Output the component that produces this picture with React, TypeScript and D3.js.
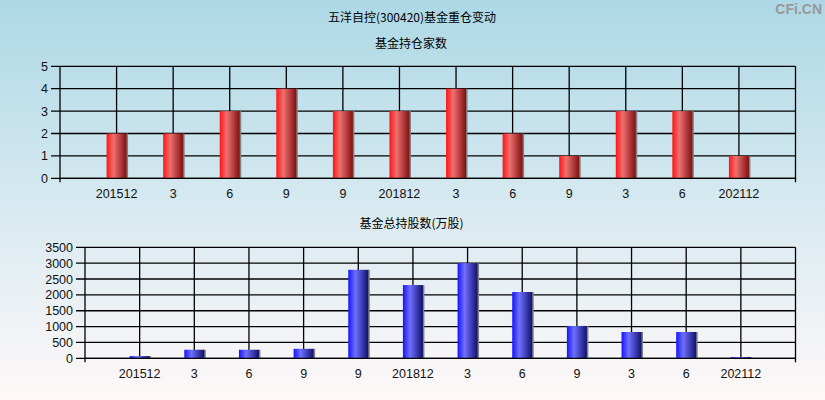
import React from 'react';
import * as d3 from 'd3';

const categories = ['201512', '3', '6', '9', '9', '201812', '3', '6', '9', '3', '6', '202112'];
const fundCounts = [2, 2, 3, 4, 3, 3, 4, 2, 1, 3, 3, 1];
const fundShares = [70, 270, 270, 300, 2790, 2310, 3000, 2090, 1020, 830, 830, 40];
const countTicks = [0, 1, 2, 3, 4, 5];
const shareTicks = [0, 500, 1000, 1500, 2000, 2500, 3000, 3500];

const W = 825;
const H = 400;
const FONT = '"Liberation Sans", Arial, sans-serif';
const CJK = '"Noto Sans CJK SC", sans-serif';

type PanelProps = {
  left: number;
  right: number;
  top: number;
  bottom: number;
  values: number[];
  ticks: number[];
  grad: string;
  labelY: number;
};

function Panel({ left, right, top, bottom, values, ticks, grad, labelY }: PanelProps) {
  const idx = categories.map((_, i) => String(i));
  const x = d3.scalePoint<string>().domain(idx).range([left, right]).padding(1);
  const y = d3.scaleLinear().domain([0, d3.max(ticks) as number]).range([bottom, top]);
  const bw = 20;
  return (
    <g>
      {ticks.map((t) => (
        <g key={'h' + t}>
          <line x1={left - 9} x2={right} y1={y(t)} y2={y(t)} stroke="#000" strokeWidth={1.3} />
          <text x={left - 12} y={y(t) + 4.5} textAnchor="end" fontFamily={FONT} fontSize={12.5} fill="#111">
            {t}
          </text>
        </g>
      ))}
      {idx.map((k) => (
        <line key={'v' + k} x1={x(k)} x2={x(k)} y1={top} y2={bottom} stroke="#000" strokeWidth={1.3} />
      ))}
      <line x1={left} x2={left} y1={top} y2={bottom + 4} stroke="#000" strokeWidth={1.3} />
      <line x1={right} x2={right} y1={top} y2={bottom + 4} stroke="#000" strokeWidth={1.3} />
      {values.map((v, i) => {
        const cx = x(String(i)) as number;
        const h = bottom - y(v);
        return (
          <g key={'b' + i}>
            <rect x={cx + bw / 2 - 0.5} y={y(v)} width={2} height={h} fill="#808080" />
            <rect x={cx - bw / 2} y={y(v)} width={bw} height={h} fill={`url(#${grad})`} />
          </g>
        );
      })}
      <line x1={left} x2={right} y1={bottom} y2={bottom} stroke="#000" strokeWidth={1.3} />
      {categories.map((c, i) => (
        <text key={'l' + i} x={x(String(i))} y={labelY} textAnchor="middle" fontFamily={FONT} fontSize={12.5} fill="#111">
          {c}
        </text>
      ))}
    </g>
  );
}

export default function App() {
  return (
    <svg width={W} height={H} style={{ position: 'absolute', left: 0, top: 0, display: 'block' }}>
      <defs>
        <linearGradient id="bg" x1="0" y1="0" x2="0" y2="1">
          <stop offset="0" stopColor="#ADD8E6" />
          <stop offset="0.5" stopColor="#D6E9F0" />
          <stop offset="1" stopColor="#FFF8F8" />
        </linearGradient>
        <linearGradient id="red" x1="0" y1="0" x2="1" y2="0">
          <stop offset="0" stopColor="#FF1414" />
          <stop offset="0.35" stopColor="#EE7070" />
          <stop offset="1" stopColor="#801010" />
        </linearGradient>
        <linearGradient id="blue" x1="0" y1="0" x2="1" y2="0">
          <stop offset="0" stopColor="#1414FF" />
          <stop offset="0.35" stopColor="#7070FF" />
          <stop offset="1" stopColor="#10106E" />
        </linearGradient>
      </defs>
      <rect x={0} y={0} width={W} height={H} fill="url(#bg)" />
      <text x={412} y={22} textAnchor="middle" fontFamily={CJK} fontSize={12} fill="#000">
        五洋自控(300420)基金重仓变动
      </text>
      <text x={822} y={14} textAnchor="end" fontFamily={FONT} fontSize={14} fontWeight="bold" fill="#999">
        CFi.CN
      </text>
      <text x={411} y={48} textAnchor="middle" fontFamily={CJK} fontSize={12} fill="#000">
        基金持仓家数
      </text>
      <Panel left={60} right={795.5} top={66.3} bottom={178.3} values={fundCounts} ticks={countTicks} grad="red" labelY={197.5} />
      <text x={411.5} y={228} textAnchor="middle" fontFamily={CJK} fontSize={12} fill="#000">
        基金总持股数(万股)
      </text>
      <Panel left={85} right={795.5} top={247.3} bottom={358.3} values={fundShares} ticks={shareTicks} grad="blue" labelY={377.5} />
    </svg>
  );
}
